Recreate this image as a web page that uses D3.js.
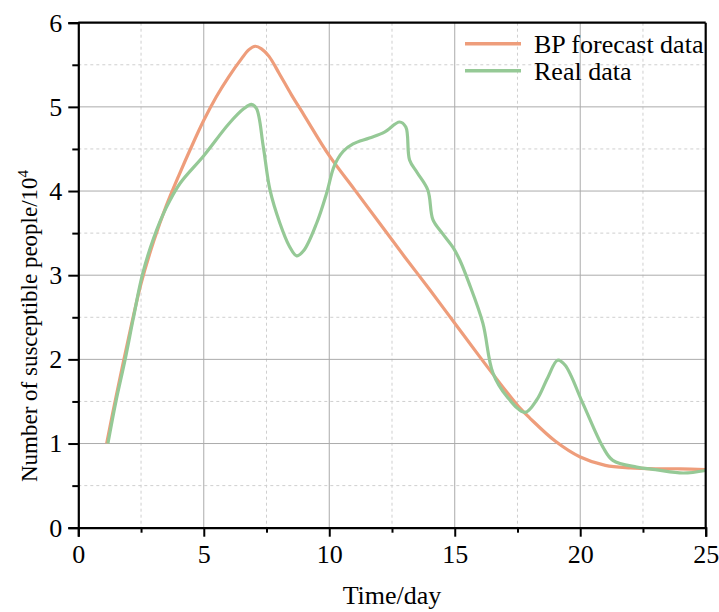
<!DOCTYPE html>
<html>
<head>
<meta charset="utf-8">
<script src="https://cdn.jsdelivr.net/npm/d3@7"></script>
<style>
  body { margin: 0; background: #fff; }
  svg { font-family: "Liberation Serif", "Times New Roman", serif; }
</style>
</head>
<body>
<svg width="719" height="612"></svg>
<script>
const svg = d3.select("svg"),
    width = +svg.attr("width"),
    height = +svg.attr("height");

// BP forecast (orange) and real data (green)
const bpDays = [1.13, 1.5, 2, 2.5, 3, 3.5, 4, 4.5, 5, 5.5, 6, 6.5, 6.8, 7.05, 7.3, 7.6, 8, 8.5, 9, 10, 11, 12, 13, 14, 15, 16, 17, 17.6, 18, 19, 20, 21, 22, 23, 24, 25];
const bpValues = [1.0, 1.55, 2.25, 2.9, 3.4, 3.82, 4.18, 4.52, 4.84, 5.12, 5.36, 5.57, 5.68, 5.72, 5.69, 5.6, 5.4, 5.14, 4.9, 4.42, 4.02, 3.62, 3.22, 2.83, 2.43, 2.03, 1.64, 1.42, 1.3, 1.03, 0.84, 0.74, 0.71, 0.70, 0.70, 0.69];

const realDays = [1.18, 1.5, 1.86, 2.2, 2.55, 3.0, 3.5, 4.05, 5, 6, 6.6, 6.9, 7.1, 7.37, 7.64, 8.03, 8.4, 8.7, 9.0, 9.5, 9.9, 10.2, 10.55, 10.95, 11.6, 12.2, 12.8, 13.05, 13.2, 13.5, 13.93, 14.13, 14.5, 14.93, 15.2, 15.55, 16.12, 16.52, 17.1, 17.8, 18.27, 18.7, 19.1, 19.4, 20.1, 20.9, 21.3, 22.25, 23, 24.1, 25];
const realValues = [1.0, 1.5, 1.99, 2.5, 3.0, 3.44, 3.8, 4.09, 4.42, 4.8, 4.98, 5.03, 4.98, 4.53, 4.01, 3.62, 3.35, 3.23, 3.3, 3.62, 3.98, 4.3, 4.47, 4.56, 4.63, 4.7, 4.82, 4.76, 4.37, 4.22, 4.01, 3.66, 3.5, 3.33, 3.18, 2.92, 2.43, 1.84, 1.55, 1.37, 1.52, 1.78, 1.99, 1.93, 1.48, 0.96, 0.8, 0.72, 0.69, 0.65, 0.68];

const xTicks = [0, 5, 10, 15, 20, 25];
const yTicks = [0, 1, 2, 3, 4, 5, 6];
const seriesNames = ["BP forecast data", "Real data"];
const seriesColors = ["#EE9D7B", "#95C996"];

const margin = { top: 22.7, right: 13.3, bottom: 84.3, left: 78.3 };
const w = width - margin.left - margin.right,
    h = height - margin.top - margin.bottom;

const x = d3.scaleLinear().domain([0, 25]).range([0, w]);
const y = d3.scaleLinear().domain([0, 6]).range([h, 0]);

const g = svg.append("g")
    .attr("transform", `translate(${margin.left},${margin.top})`);

// minor grid (dashed)
const xMinor = d3.range(2.5, 25, 5);
const yMinor = d3.range(0.5, 6, 1);

g.append("g").selectAll("line")
    .data(xMinor)
    .enter().append("line")
    .attr("x1", d => x(d)).attr("x2", d => x(d))
    .attr("y1", 0).attr("y2", h)
    .attr("stroke", "#cfcfcf")
    .attr("stroke-dasharray", "3,3");

g.append("g").selectAll("line")
    .data(yMinor)
    .enter().append("line")
    .attr("y1", d => y(d)).attr("y2", d => y(d))
    .attr("x1", 0).attr("x2", w)
    .attr("stroke", "#cfcfcf")
    .attr("stroke-dasharray", "3,3");

// major grid
g.append("g").selectAll("line")
    .data(xTicks.slice(1, -1))
    .enter().append("line")
    .attr("x1", d => x(d)).attr("x2", d => x(d))
    .attr("y1", 0).attr("y2", h)
    .attr("stroke", "#ababab");

g.append("g").selectAll("line")
    .data(yTicks.slice(1, -1))
    .enter().append("line")
    .attr("y1", d => y(d)).attr("y2", d => y(d))
    .attr("x1", 0).attr("x2", w)
    .attr("stroke", "#ababab");

// curves
const line = d3.line()
    .x(d => x(d[0]))
    .y(d => y(d[1]))
    .curve(d3.curveCatmullRom.alpha(0.5));

const bp = bpDays.map((d, i) => [d, bpValues[i]]);
const real = realDays.map((d, i) => [d, realValues[i]]);

g.append("path")
    .datum(bp)
    .attr("fill", "none")
    .attr("stroke", seriesColors[0])
    .attr("stroke-width", 3.2)
    .attr("d", line);

g.append("path")
    .datum(real)
    .attr("fill", "none")
    .attr("stroke", seriesColors[1])
    .attr("stroke-width", 3.2)
    .attr("d", line);

// axes
const xAxis = g.append("g")
    .attr("transform", `translate(0,${h})`)
    .call(d3.axisBottom(x).tickValues(xTicks).tickSize(9).tickPadding(8).tickFormat(d3.format("d")));

g.append("g")
    .attr("transform", `translate(0,${h})`)
    .call(d3.axisBottom(x).tickValues(xMinor).tickSize(5).tickFormat(""))
    .select(".domain").remove();

const yAxis = g.append("g")
    .call(d3.axisLeft(y).tickValues(yTicks).tickSize(10).tickPadding(6).tickFormat(d3.format("d")));

g.append("g")
    .call(d3.axisLeft(y).tickValues(yMinor).tickSize(6).tickFormat(""))
    .select(".domain").remove();

g.selectAll(".tick line").attr("stroke", "#000").attr("stroke-width", 2);
g.selectAll(".domain").attr("stroke", "#000").attr("stroke-width", 2.2);
[xAxis, yAxis].forEach(a => a
    .attr("font-family", "'Liberation Serif', 'Times New Roman', serif")
    .attr("font-size", 26)
    .selectAll("text").attr("fill", "#000"));

// frame top and right
g.append("line")
    .attr("x1", 0).attr("x2", w).attr("y1", 0).attr("y2", 0)
    .attr("stroke", "#000").attr("stroke-width", 2.2);
g.append("line")
    .attr("x1", w).attr("x2", w).attr("y1", 0).attr("y2", h)
    .attr("stroke", "#000").attr("stroke-width", 2.2);

// axis titles
svg.append("text")
    .attr("x", margin.left + w / 2)
    .attr("y", 604)
    .attr("text-anchor", "middle")
    .attr("font-size", 26)
    .text("Time/day");

const yTitle = svg.append("text")
    .attr("transform", "translate(37,326) rotate(-90)")
    .attr("text-anchor", "middle")
    .attr("font-size", 23);
yTitle.append("tspan").text("Number of susceptible people/10");
yTitle.append("tspan")
    .attr("dy", -9)
    .attr("font-size", 15)
    .text("4");

// legend
const legend = svg.append("g")
    .selectAll("g")
    .data(seriesNames)
    .enter().append("g")
    .attr("transform", (d, i) => `translate(465,${43.7 + i * 27})`);

legend.append("line")
    .attr("x1", 0).attr("x2", 56)
    .attr("stroke", (d, i) => seriesColors[i])
    .attr("stroke-width", 3.5);

legend.append("text")
    .attr("x", 69)
    .attr("dy", "0.35em")
    .attr("font-size", 26)
    .text(d => d);
</script>
</body>
</html>
